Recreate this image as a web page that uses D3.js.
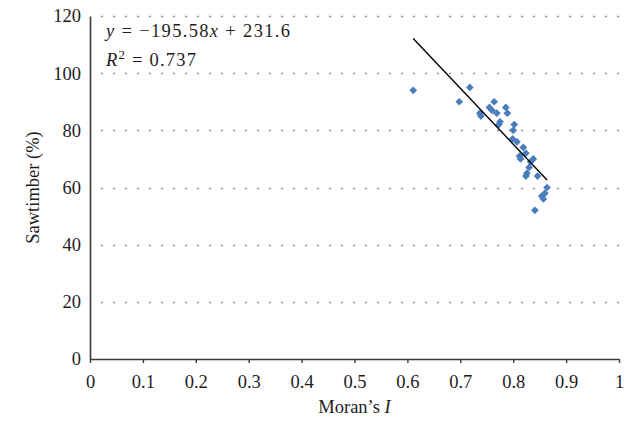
<!DOCTYPE html>
<html>
<head>
<meta charset="utf-8">
<script src="https://cdn.jsdelivr.net/npm/d3@7"></script>
<style>
  html, body { margin: 0; padding: 0; background: #fff; }
  svg { display: block; }
  text { font-family: "Liberation Serif", "Times New Roman", serif; fill: #1f1c1d; }
</style>
</head>
<body>
<svg id="chart" width="629" height="421"></svg>
<script>
// Moran's I against sawtimber share, one point per stand
const moransI = [0.611, 0.698, 0.718, 0.737, 0.739, 0.755, 0.760, 0.764, 0.769, 0.775,
                 0.773, 0.786, 0.789, 0.802, 0.800, 0.799, 0.807, 0.819, 0.824, 0.812,
                 0.814, 0.838, 0.833, 0.830, 0.826, 0.824, 0.846, 0.864, 0.860, 0.854,
                 0.857, 0.841];
const sawtimber = [94, 90, 95, 86, 85, 88, 87, 90, 86, 83,
                   82, 88, 86, 82, 80, 77, 76, 74, 72, 71,
                   70, 70, 69, 67, 65, 64, 64, 60, 58, 57,
                   56, 52];

// Linear trend as reported in the equation label
const slope = -195.58;
const intercept = 231.6;
const rSquared = 0.737;

const xTicks = [0, 0.1, 0.2, 0.3, 0.4, 0.5, 0.6, 0.7, 0.8, 0.9, 1];
const yTicks = [0, 20, 40, 60, 80, 100, 120];

const width = 629, height = 421;
const margin = { top: 16, right: 10, bottom: 62, left: 90 };
const fontSize = 18.5;

const svg = d3.select("#chart");

const x = d3.scaleLinear().domain([0, 1]).range([margin.left, width - margin.right]);
const y = d3.scaleLinear().domain([0, 120]).range([height - margin.bottom, margin.top]);

// Dotted horizontal gridlines
svg.append("g")
  .selectAll("line")
  .data(yTicks.filter(d => d > 0))
  .join("line")
  .attr("x1", x(0) + 11)
  .attr("x2", x(1))
  .attr("y1", d => Math.round(y(d)) + 0.5)
  .attr("y2", d => Math.round(y(d)) + 0.5)
  .attr("stroke", "#8c8c8c")
  .attr("stroke-width", 1.6)
  .attr("stroke-dasharray", "2,10");

// X axis
const xAxis = svg.append("g")
  .attr("transform", `translate(0,${y(0)})`)
  .call(d3.axisBottom(x).tickValues(xTicks).tickFormat(d3.format("")).tickSize(4).tickSizeOuter(0));
xAxis.select(".domain").attr("stroke", "#3a3a3a").attr("stroke-width", 1.6);
xAxis.selectAll(".tick line").attr("stroke", "#3a3a3a").attr("stroke-width", 1.4);
xAxis.selectAll(".tick text")
  .attr("y", 16)
  .attr("font-size", fontSize)
  .attr("fill", "#1f1c1d");

// Y axis
const yAxis = svg.append("g")
  .attr("transform", `translate(${x(0)},0)`)
  .call(d3.axisLeft(y).tickValues(yTicks).tickSize(0).tickPadding(9).tickSizeOuter(0));
yAxis.select(".domain").attr("stroke", "#3a3a3a").attr("stroke-width", 1.6);
yAxis.selectAll(".tick text")
  .attr("font-size", fontSize)
  .attr("fill", "#1f1c1d");
svg.selectAll("g").attr("font-family", null).attr("font-size", null);

// Scatter points (diamonds)
const pts = moransI.map((d, i) => ({ mi: d, st: sawtimber[i] }));
const diamond = d3.symbol().type(d3.symbolSquare).size(30);
svg.append("g")
  .selectAll("path")
  .data(pts)
  .join("path")
  .attr("d", diamond)
  .attr("transform", d => `translate(${x(d.mi)},${y(d.st)}) rotate(45)`)
  .attr("fill", "#4a7dbb");

// Trend line over the observed range
const [xMin, xMax] = d3.extent(moransI);
svg.append("line")
  .attr("x1", x(xMin)).attr("y1", y(slope * xMin + intercept))
  .attr("x2", x(xMax)).attr("y2", y(slope * xMax + intercept))
  .attr("stroke", "#000")
  .attr("stroke-width", 1.4);

// Equation and R² labels
const eq = svg.append("text")
  .attr("x", 106).attr("y", 37)
  .attr("font-size", fontSize);
eq.append("tspan").attr("font-style", "italic").text("y");
eq.append("tspan").text(" = \u2212" + Math.abs(slope).toFixed(2));
eq.append("tspan").attr("font-style", "italic").text("x");
eq.append("tspan").text(" + " + intercept);
eq.attr("textLength", 184).attr("lengthAdjust", "spacing");

const r2 = svg.append("text")
  .attr("x", 106).attr("y", 66)
  .attr("font-size", fontSize);
r2.append("tspan").attr("font-style", "italic").text("R");
r2.append("tspan").attr("font-size", 13).attr("dy", -7.5).text("2");
r2.append("tspan").attr("dy", 7.5).text(" = " + rSquared);
r2.attr("textLength", 90).attr("lengthAdjust", "spacing");

// Axis titles
svg.append("text")
  .attr("x", (x(0) + x(1)) / 2)
  .attr("y", 413)
  .attr("text-anchor", "middle")
  .attr("font-size", fontSize)
  .call(t => {
    t.append("tspan").text("Moran\u2019s ");
    t.append("tspan").attr("font-style", "italic").text("I");
  });

svg.append("text")
  .attr("transform", `translate(39,${(y(0) + y(120)) / 2}) rotate(-90)`)
  .attr("text-anchor", "middle")
  .attr("font-size", fontSize)
  .text("Sawtimber (%)");
</script>
</body>
</html>
